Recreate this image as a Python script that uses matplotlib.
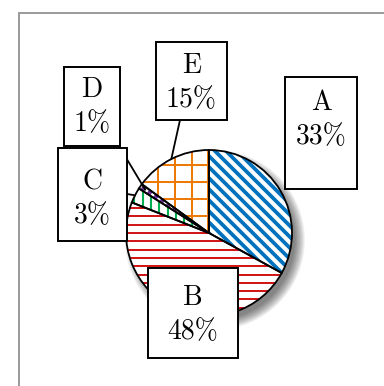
import numpy as np
import matplotlib
matplotlib.use("Agg")
import matplotlib.pyplot as plt
from matplotlib.patches import Rectangle, Circle
from matplotlib.collections import LineCollection

# ---------------------------------------------------------------- data
labels = ["A", "B", "C", "D", "E"]
shares = [33, 48, 3, 1, 15]
colors = ["#0072BD", "#CC0000", "#00B050", "#7030A0", "#EE7700"]

# hatch styling per wedge: (line angles, spacing px, linewidth pt, linestyle)
hatch_angles = [[-45], [0], [90], [None], [0, 90]]
hatch_space = [7.8, 8.3, 8.3, 2.5, 16.7]
hatch_lw = [2.7, 1.3, 1.5, 2.0, 1.4]
hatch_ls = ["-", "-", "-", (0, (1.5, 1.2)), "-"]

# ---------------------------------------------------------------- layout (pixels, y up)
W, H = 384, 386
center = (209, 153)
radius = 83
# label boxes: left, bottom, width, height
boxes = [(285, 197, 72, 112), (148, 28, 90, 90), (58, 145, 69, 93),
         (64, 240, 56, 79), (156, 266, 71, 78)]
text_y = [266, 71, 187, 279, 303]           # centre of the two text lines
connect_from = [None, None, (127, 192), (119, 240), (180, 266)]
connect_r = [None, None, 1.0, 0.93, 1.0]


def add_hatch(ax, clip, angle, spacing, color, lw, ls):
    th = np.deg2rad(angle)
    d = np.array([np.cos(th), np.sin(th)])
    nrm = np.array([-d[1], d[0]])
    L = radius * 1.6
    c = np.array(center, dtype=float)
    segs = [[c + nrm * k - d * L, c + nrm * k + d * L]
            for k in np.arange(-L, L, spacing)]
    lc = LineCollection(segs, colors=color, linewidths=lw, linestyles=ls,
                        zorder=2, capstyle="butt")
    ax.add_collection(lc)
    lc.set_clip_path(clip)


fig = plt.figure(figsize=(W / 100, H / 100), dpi=100)
ax = fig.add_axes([0, 0, 1, 1])

# outer frame (only top/left visible in the crop)
ax.add_patch(Rectangle((19, -20), 420, 393, fill=False, edgecolor="#9a9a9a",
                       linewidth=1.4, zorder=0))

# soft shadow, offset to lower right
for k in range(14):
    ax.add_patch(Circle((center[0] + 6, center[1] - 7), radius + 7 - k * 0.8,
                        facecolor="#000000", edgecolor="none", alpha=0.045, zorder=1))

# white wedges used as background and clip paths
wedges, _ = ax.pie(shares, startangle=90, counterclock=False, center=center,
                   radius=radius, frame=True,
                   wedgeprops=dict(facecolor="white", linewidth=0))
for w, c, angs, sp, lw, ls in zip(wedges, colors, hatch_angles, hatch_space,
                                  hatch_lw, hatch_ls):
    w.set_zorder(1.5)
    for a in angs:
        if a is None:   # thin wedge: strokes run along the wedge
            a = (w.theta1 + w.theta2) / 2
        add_hatch(ax, w, a, sp, c, lw, ls)

# black outlines
outl, _ = ax.pie(shares, startangle=90, counterclock=False, center=center,
                 radius=radius, frame=True,
                 wedgeprops=dict(fill=False, edgecolor="black", linewidth=1.3))
for w in outl:
    w.set_zorder(3)

# connector lines to wedges
for w, start, rf in zip(wedges, connect_from, connect_r):
    if start is None:
        continue
    mid = np.deg2rad((w.theta1 + w.theta2) / 2)
    end = (center[0] + rf * radius * np.cos(mid), center[1] + rf * radius * np.sin(mid))
    ax.plot([start[0], end[0]], [start[1], end[1]], color="black", lw=1.3, zorder=4)

# label boxes
for lab, val, (x0, y0, bw, bh), ty in zip(labels, shares, boxes, text_y):
    ax.add_patch(Rectangle((x0, y0), bw, bh, facecolor="white", edgecolor="black",
                           linewidth=1.4, zorder=5))
    cx = x0 + bw / 2
    ax.text(cx, ty + 17, lab, ha="center", va="center", family="cmr10",
            fontsize=20, zorder=6)
    ax.text(cx, ty - 17, f"{val}%", ha="center", va="center", family="cmr10",
            fontsize=20, zorder=6)

ax.set_xlim(0, W)
ax.set_ylim(0, H)
ax.set_aspect("equal")
ax.axis("off")

fig.savefig("out.png", dpi=100, facecolor="white")
